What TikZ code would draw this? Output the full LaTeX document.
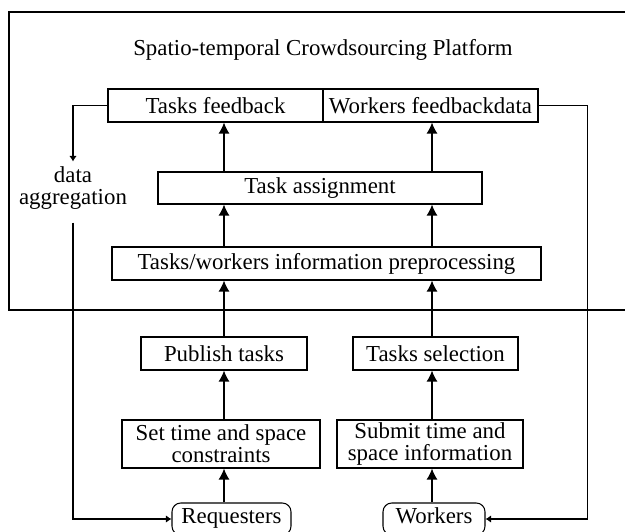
\documentclass[tikz,border=0pt]{standalone}
\usepackage{fontspec}
\setmainfont{Liberation Serif}
\usetikzlibrary{arrows.meta}
\begin{document}
\begin{tikzpicture}[
  box/.style={draw,line width=0.6pt,inner sep=0pt,minimum height=0.66cm,align=center},
  arr/.style={line width=0.8pt,-{Latex[length=2.2mm,width=2.2mm]}},
  sarr/.style={line width=0.8pt,-{Latex[length=1.1mm,width=1.5mm]}},
  font=\fontsize{13}{12.5}\selectfont]
\useasboundingbox (0,0) rectangle (12.5,10.62);
% platform frame (open on the right)
\draw[line width=1.1pt] (12.6,10.38) -- (0.18,10.38) -- (0.18,4.42) -- (12.6,4.42);
\node (T) at (6.46,9.62) {Spatio-temporal Crowdsourcing Platform};
\coordinate (L) at (4.48,0);
\coordinate (R) at (8.64,0);
% platform
\node[box,minimum width=4.3cm](TF) at (4.31,8.51){Tasks feedback};
\node[box,minimum width=4.3cm](WF) at (8.61,8.51){Workers feedbackdata};
\node[box,minimum width=6.48cm,minimum height=0.64cm](TA) at (6.40,6.86){Task assignment};
\node[box,minimum width=8.58cm](PP) at (6.53,5.35){Tasks/workers information preprocessing};
% requesters and workers side
\node[box,minimum width=3.32cm](PT) at (4.48,3.55){Publish tasks};
\node[box,minimum width=3.30cm](TS) at (8.71,3.55){Tasks selection};
\node[box,minimum width=3.96cm,minimum height=0.96cm](ST) at (4.42,1.74){Set time and space\\constraints};
\node[box,minimum width=3.72cm,minimum height=0.96cm](SI) at (8.60,1.74){Submit time and\\space information};
\node[box,rounded corners=5pt,minimum width=2.38cm,minimum height=0.64cm,text height=1.6ex,text depth=0.4ex](RQ) at (4.63,0.24){Requesters};
\node[box,rounded corners=5pt,minimum width=2.04cm,minimum height=0.64cm,text height=1.6ex,text depth=0.4ex](WK) at (8.68,0.24){Workers};
\node[align=center,inner sep=0pt](DA) at (1.46,6.85){data\\aggregation};
% upward flow
\draw[arr] (RQ.north -| L) -- (ST.south -| L);
\draw[arr] (ST.north -| L) -- (PT.south -| L);
\draw[arr] (PT.north -| L) -- (PP.south -| L);
\draw[arr] (PP.north -| L) -- (TA.south -| L);
\draw[arr] (TA.north -| L) -- (TF.south -| L);
\draw[arr] (WK.north -| R) -- (SI.south -| R);
\draw[arr] (SI.north -| R) -- (TS.south -| R);
\draw[arr] (TS.north -| R) -- (PP.south -| R);
\draw[arr] (PP.north -| R) -- (TA.south -| R);
\draw[arr] (TA.north -| R) -- (WF.south -| R);
% feedback loops
\draw[sarr] (TF.west) -| ([yshift=3pt]DA.north);
\draw[sarr] ([yshift=-7pt]DA.south) |- (RQ.west);
\draw[sarr] (WF.east) -- ++(0.98,0) |- (WK.east);
\end{tikzpicture}
\end{document}
